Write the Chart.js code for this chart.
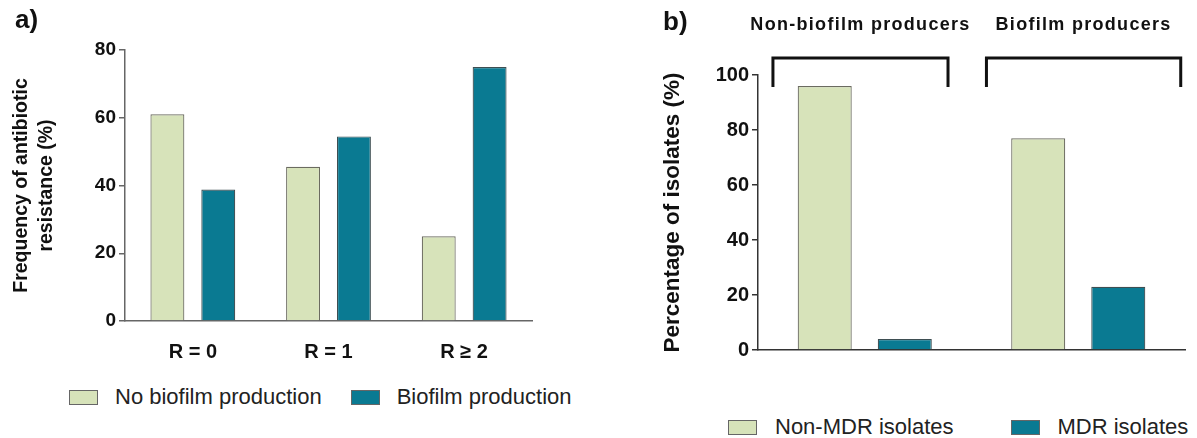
<!DOCTYPE html>
<html>
<head>
<meta charset="utf-8">
<script src="https://cdn.jsdelivr.net/npm/chart.js@4.4.1/dist/chart.umd.min.js"></script>
<style>
  body { margin: 0; background: #fff; font-family: "Liberation Sans", Arial, sans-serif; }
  #wrap { position: relative; width: 1197px; height: 438px; overflow: hidden; }
  .panel { position: absolute; top: 0; height: 370px; }
  .tag { position: absolute; font-weight: bold; font-size: 26px; color: #111; }
  .legend { position: absolute; display: flex; align-items: center; font-size: 22px; color: #222; }
  .legend .item { display: flex; align-items: center; }
  .legend .box { width: 29px; height: 15px; box-sizing: border-box; border: 1.5px solid #666; }
</style>
</head>
<body>
<div id="wrap">
  <div class="panel" style="left:0;width:600px"><canvas id="chartA" width="600" height="370"></canvas></div>
  <div class="panel" style="left:600px;width:597px"><canvas id="chartB" width="597" height="370"></canvas></div>
  <div class="tag" style="left:15px;top:4px">a)</div>
  <div class="tag" style="left:663px;top:6px">b)</div>
  <div class="legend" id="legendA" style="left:69px;top:384px"></div>
  <div class="legend" id="legendB" style="left:728px;top:414px"></div>
</div>
<script>
// panel a
const groupsA = ['R = 0', 'R = 1', 'R \u2265 2'];
const noBiofilm = [61, 45.5, 25];
const biofilm = [38.8, 54.5, 75];
const ticksA = [0, 20, 40, 60, 80];

// panel b
const groupsB = ['Non-biofilm producers', 'Biofilm producers'];
const nonMdr = [96, 77];
const mdr = [4, 23];
const ticksB = [0, 20, 40, 60, 80, 100];
// brackets over each group, in category units / y units
const bracketFrom = [-0.43, 0.57];
const bracketTo = [0.39, 1.48];
const bracketTop = 106.2;
const bracketLeg = 95.6;
const headerLevel = 118;

const lightGreen = '#d7e3ba';
const teal = '#0a7a92';
const fontFam = '"Liberation Sans", Arial, sans-serif';

function yScale(ticks, max, title, titlePad, titleSize, tickSize, width, axisColor) {
    return {
        min: 0,
        max: max,
        afterBuildTicks: s => { s.ticks = ticks.map(v => ({ value: v })); },
        afterFit: s => { s.width = width; },
        border: { display: true, color: axisColor, width: 1.5 },
        grid: { drawOnChartArea: false, drawTicks: true, tickLength: 6, color: axisColor, lineWidth: 1.5 },
        ticks: { color: '#111', padding: 3, font: { family: fontFam, size: tickSize, weight: 'bold' } },
        title: {
            display: true,
            text: title,
            color: '#111',
            padding: { top: titlePad, bottom: 0 },
            font: { family: fontFam, size: titleSize, weight: 'bold', lineHeight: 1.3 }
        }
    };
}

const chartA = new Chart(document.getElementById('chartA'), {
    type: 'bar',
    data: {
        labels: groupsA,
        datasets: [
            { label: 'No biofilm production', data: noBiofilm, backgroundColor: lightGreen, borderColor: '#6b6b60', borderWidth: 1.2 },
            { label: 'Biofilm production', data: biofilm, backgroundColor: teal, borderColor: '#3e4e52', borderWidth: 1.2 }
        ]
    },
    options: {
        responsive: false,
        animation: false,
        layout: { padding: { left: 0, right: 68, top: 50, bottom: 0 } },
        datasets: { bar: { categoryPercentage: 0.75, barPercentage: 0.667 } },
        plugins: { legend: { display: false }, tooltip: { enabled: false } },
        scales: {
            x: {
                afterFit: s => { s.height = 49; },
                border: { display: true, color: '#666', width: 1.5 },
                grid: { display: false },
                ticks: { color: '#111', padding: 11, font: { family: fontFam, size: 20, weight: 'bold' } }
            },
            y: yScale(ticksA, 80, ['Frequency of antibiotic', 'resistance (%)'], 9, 19.5, 19, 125, '#666')
        }
    }
});

const bracketPlugin = {
    id: 'brackets',
    afterDraw(chart) {
        const ctx = chart.ctx;
        const x = chart.scales.x, y = chart.scales.y;
        const step = x.getPixelForValue(1) - x.getPixelForValue(0);
        ctx.save();
        ctx.strokeStyle = '#111';
        ctx.lineWidth = 3;
        ctx.lineJoin = 'miter';
        groupsB.forEach((name, i) => {
            const x0 = x.getPixelForValue(0) + bracketFrom[i] * step;
            const x1 = x.getPixelForValue(0) + bracketTo[i] * step;
            const yt = y.getPixelForValue(bracketTop);
            const yl = y.getPixelForValue(bracketLeg);
            ctx.beginPath();
            ctx.moveTo(x0, yl);
            ctx.lineTo(x0, yt);
            ctx.lineTo(x1, yt);
            ctx.lineTo(x1, yl);
            ctx.stroke();
            ctx.fillStyle = '#111';
            ctx.font = 'bold 18px ' + fontFam;
            ctx.letterSpacing = '1.3px';
            ctx.textAlign = 'center';
            ctx.textBaseline = 'middle';
            ctx.fillText(name, (x0 + x1) / 2, y.getPixelForValue(headerLevel));
        });
        ctx.restore();
    }
};

const chartB = new Chart(document.getElementById('chartB'), {
    type: 'bar',
    data: {
        labels: groupsB,
        datasets: [
            { label: 'Non-MDR isolates', data: nonMdr, backgroundColor: lightGreen, borderColor: '#6b6b60', borderWidth: 1.2 },
            { label: 'MDR isolates', data: mdr, backgroundColor: teal, borderColor: '#3e4e52', borderWidth: 1.2 }
        ]
    },
    options: {
        responsive: false,
        animation: false,
        layout: { padding: { left: 0, right: 12, top: 75, bottom: 0 } },
        datasets: { bar: { categoryPercentage: 0.75, barPercentage: 0.675 } },
        plugins: { legend: { display: false }, tooltip: { enabled: false } },
        scales: {
            x: {
                afterFit: s => { s.height = 20; },
                border: { display: true, color: '#333', width: 1.5 },
                grid: { display: false },
                ticks: { display: false }
            },
            y: yScale(ticksB, 100, 'Percentage of isolates (%)', 58, 22.5, 20, 158, '#333')
        }
    },
    plugins: [bracketPlugin]
});

function buildLegend(chart, id, textGap, itemGap) {
    const el = document.getElementById(id);
    el.style.gap = itemGap + 'px';
    chart.data.datasets.forEach(ds => {
        const item = document.createElement('div');
        item.className = 'item';
        item.style.gap = textGap + 'px';
        const box = document.createElement('span');
        box.className = 'box';
        box.style.background = ds.backgroundColor;
        const label = document.createElement('span');
        label.textContent = ds.label;
        item.appendChild(box);
        item.appendChild(label);
        el.appendChild(item);
    });
}

buildLegend(chartA, 'legendA', 17, 29);
buildLegend(chartB, 'legendB', 18, 57);
</script>
</body>
</html>
